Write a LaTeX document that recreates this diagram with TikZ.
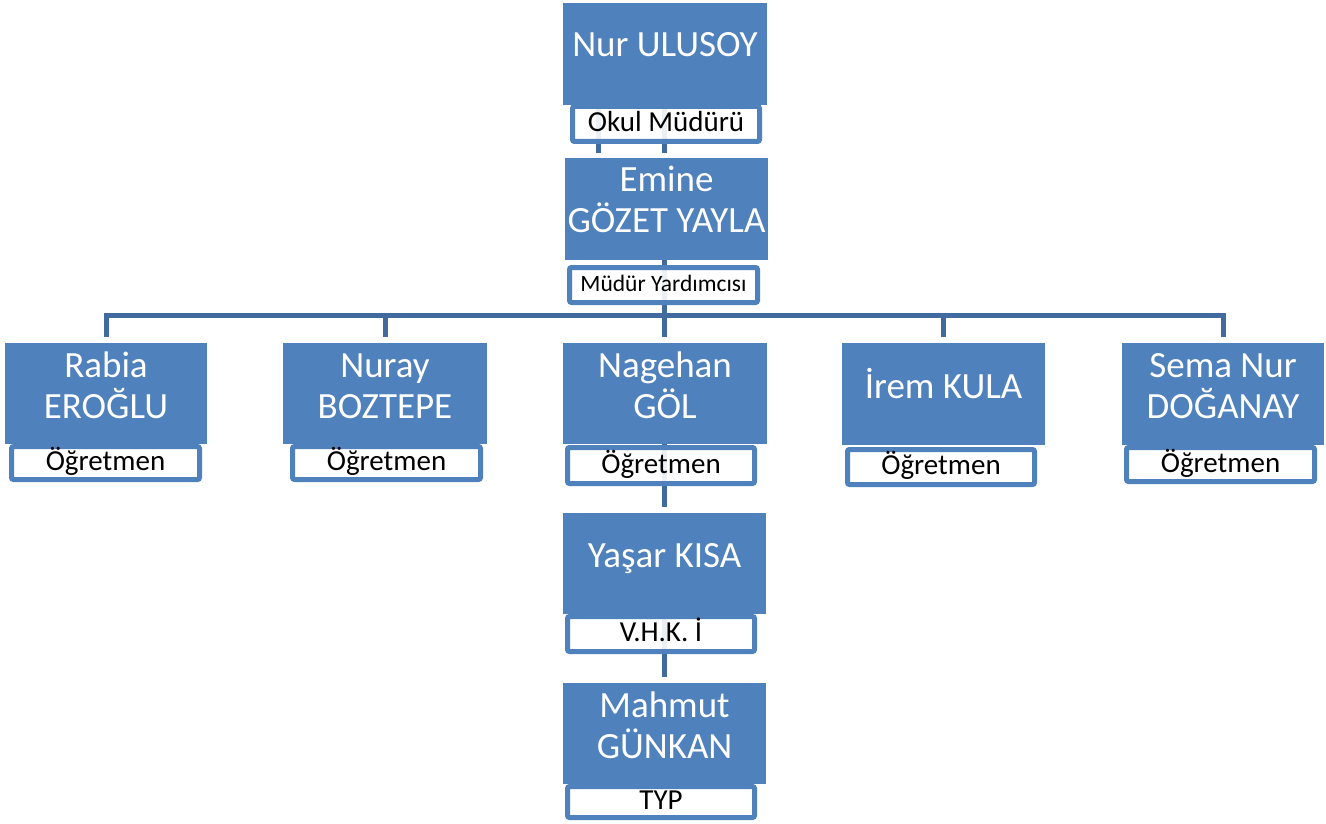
\documentclass[tikz,border=0pt]{standalone}
\usepackage{fontspec}
\setmainfont{Carlito}
\usetikzlibrary{backgrounds}
\definecolor{boxblue}{RGB}{79,129,189}
\definecolor{linkblue}{RGB}{65,107,158}
\begin{document}
\begin{tikzpicture}[x=1pt,y=-1pt,
  namebox/.style={fill=boxblue, draw=none, inner sep=0pt, minimum height=102pt},
  nametext/.style={text=white, font=\fontsize{37}{41}\selectfont, align=center, anchor=base, inner sep=0pt},
  rolebox/.style={draw=boxblue, line width=5pt, fill=white, fill opacity=0.9, text opacity=1,
    rounded corners=2pt, inner sep=0pt, text height=18pt, text depth=3pt,
    font=\fontsize{29}{34}\selectfont, minimum width=187pt},
  smallrole/.style={font=\fontsize{23.5}{28}\selectfont, text height=15pt, text depth=2pt},
  conn/.style={draw=linkblue, line width=5pt, line join=miter, shorten >=6pt}
]
\useasboundingbox (0,0) rectangle (1326,824);

% name boxes
\node[namebox, minimum width=204pt] (nur) at (665,54) {};
\node[namebox, minimum width=203pt] (emine) at (666.5,209) {};
\node[namebox, minimum width=202pt, minimum height=101pt] (rabia) at (106,393.5) {};
\node[namebox, minimum width=204pt, minimum height=101pt] (nuray) at (385,393.5) {};
\node[namebox, minimum width=204pt, minimum height=101pt] (nagehan) at (665,393.5) {};
\node[namebox, minimum width=203pt] (irem) at (943.5,394) {};
\node[namebox, minimum width=202pt] (sema) at (1223,394) {};
\node[namebox, minimum width=203pt, minimum height=101pt] (yasar) at (664.5,563.5) {};
\node[namebox, minimum width=203pt, minimum height=101pt] (mahmut) at (664.5,733.5) {};

% names (base anchor = baseline of the last line)
\node[nametext] (nurt) at (665,57) {Nur ULUSOY};
\node[nametext] (eminet) at (666.5,233) {Emine\\GÖZET YAYLA};
\node[nametext] (rabiat) at (106,418) {Rabia\\EROĞLU};
\node[nametext] (nurayt) at (385,418) {Nuray\\BOZTEPE};
\node[nametext] (nageht) at (665,418) {Nagehan\\GÖL};
\node[nametext] (iremt) at (943.5,398) {İrem KULA};
\node[nametext] (semat) at (1223,418) {Sema Nur\\DOĞANAY};
\node[nametext] (yasart) at (664.5,567) {Yaşar KISA};
\node[nametext] (mahmutt) at (664.5,758) {Mahmut\\GÜNKAN};

% role labels
\node[rolebox, minimum height=35pt] (nurl) at (666,124) {Okul Müdürü};
\node[rolebox, smallrole, minimum width=188pt, minimum height=35pt] (eminel) at (663.5,285) {Müdür Yardımcısı};
\node[rolebox, minimum width=188pt, minimum height=33pt] (rabial) at (105.5,463) {Öğretmen};
\node[rolebox, minimum width=188pt, minimum height=33pt] (nurayl) at (386.5,463) {Öğretmen};
\node[rolebox, minimum height=36pt] (nagehl) at (661,465.5) {Öğretmen};
\node[rolebox, minimum height=35pt] (ireml) at (941,467) {Öğretmen};
\node[rolebox, minimum width=188pt, minimum height=34pt] (semal) at (1220.5,464.5) {Öğretmen};
\node[rolebox, minimum height=35pt] (yasarl) at (661,634) {V.H.K. İ};
\node[rolebox, minimum height=31pt] (mahmutl) at (661,802) {TYP};

% connectors
\coordinate (a1) at (598,0);
\coordinate (hub) at (664,315);
\begin{scope}[on background layer]
\draw[conn, shorten >=5pt] (nur.south -| a1) -- (emine.north -| a1);
\draw[conn, shorten >=5pt] (nur.south -| hub) -- (emine.north -| hub);
\draw[conn, shorten >=0pt] (emine.south -| hub) -- (hub);
\draw[conn] (hub) -| (rabia.north);
\draw[conn] (hub) -| (nuray.north);
\draw[conn] (hub) -- (nagehan.north -| hub);
\draw[conn] (hub) -| (irem.north);
\draw[conn] (hub) -| (sema.north);
\draw[conn] (nagehan.south -| hub) -- (yasar.north -| hub);
\draw[conn] (yasar.south -| hub) -- (mahmut.north -| hub);
\end{scope}
\end{tikzpicture}
\end{document}
